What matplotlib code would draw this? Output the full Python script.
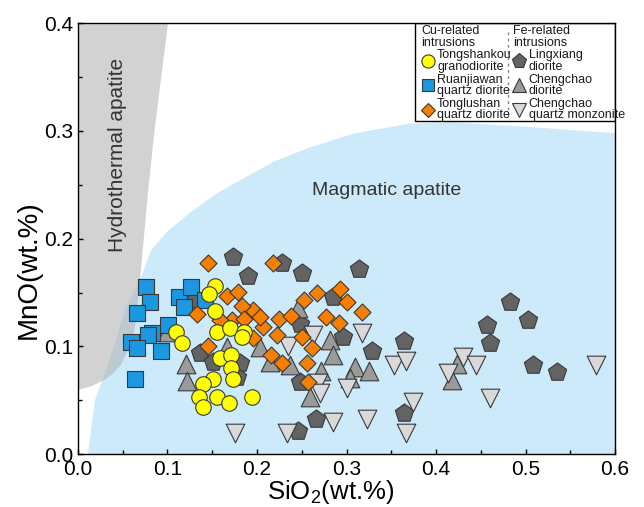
import matplotlib
matplotlib.use("Agg")
import matplotlib.pyplot as plt
from matplotlib.lines import Line2D
from matplotlib.patches import Polygon, Rectangle
from matplotlib.ticker import MultipleLocator, FormatStrFormatter

plt.rcParams['font.family'] = ['Liberation Sans', 'DejaVu Sans']
plt.rcParams['mathtext.default'] = 'regular'

# field outlines (SiO2, MnO)
hydro_x = [0, 0.1006, 0.093, 0.0855, 0.079, 0.0735, 0.068, 0.064, 0.061, 0.055, 0.048, 0.038, 0.030, 0.015, 0]
hydro_y = [0.4, 0.4, 0.35, 0.30, 0.25, 0.20, 0.15, 0.12, 0.108, 0.095, 0.083, 0.074, 0.069, 0.063, 0.0594]

magma_x = [0.011, 0.019, 0.030, 0.042, 0.0525, 0.0704, 0.0816, 0.100, 0.125, 0.155, 0.187, 0.22, 0.26, 0.31,
           0.372, 0.42, 0.5, 0.6, 0.6]
magma_y = [0.0, 0.050, 0.075, 0.105, 0.134, 0.164, 0.189, 0.207, 0.224, 0.242, 0.257, 0.272, 0.285, 0.298,
           0.307, 0.308, 0.304, 0.298, 0.0]

# Cu-related intrusions
tsk_x = [0.153, 0.1467, 0.153, 0.110, 0.1159, 0.1556, 0.1698, 0.1858, 0.1829, 0.1587, 0.1706, 0.1706,
         0.1735, 0.1505, 0.140, 0.1355, 0.155, 0.1687, 0.1393, 0.1948]
tsk_y = [0.156, 0.1486, 0.133, 0.113, 0.1033, 0.113, 0.1167, 0.113, 0.1089, 0.0889, 0.0919, 0.0796,
         0.0694, 0.0694, 0.065, 0.0526, 0.0526, 0.0476, 0.0434, 0.0532]

rjw_x = [0.0756, 0.0808, 0.0663, 0.1125, 0.1266, 0.1184, 0.1006, 0.0827, 0.0782, 0.0596, 0.0663, 0.0931,
         0.064, 0.142]
rjw_y = [0.1548, 0.1409, 0.1312, 0.1461, 0.1548, 0.1362, 0.1198, 0.1121, 0.1105, 0.1043, 0.0981, 0.0959,
         0.0694, 0.143]

tls_x = [0.2175, 0.2529, 0.2674, 0.2927, 0.3002, 0.3177, 0.2771, 0.292, 0.2249, 0.1959, 0.207, 0.222,
         0.1959, 0.2499, 0.2611, 0.2153, 0.2276, 0.2562, 0.2573, 0.1456, 0.1661, 0.179, 0.1326, 0.183,
         0.2034, 0.1717, 0.1587, 0.1456, 0.238, 0.186]
tls_y = [0.1776, 0.143, 0.1492, 0.1529, 0.1414, 0.1316, 0.1275, 0.1214, 0.1253, 0.1337, 0.1182, 0.1105,
         0.1074, 0.1089, 0.0981, 0.0919, 0.0842, 0.0848, 0.0671, 0.177, 0.1467, 0.1507, 0.130, 0.1374,
         0.1275, 0.1244, 0.1244, 0.1003, 0.128, 0.125]

# Fe-related intrusions
lx_x = [0.2283, 0.2506, 0.3143, 0.19, 0.2845, 0.248, 0.2957, 0.328, 0.3642, 0.4827, 0.5031, 0.4573,
        0.4603, 0.508, 0.5348, 0.248, 0.3642, 0.2659, 0.2462, 0.1728, 0.1307, 0.1363, 0.1512, 0.181, 0.1773]
lx_y = [0.177, 0.1683, 0.1715, 0.165, 0.1455, 0.1207, 0.1089, 0.0954, 0.1046, 0.1414, 0.1244, 0.1198,
        0.1028, 0.0826, 0.0764, 0.0671, 0.0383, 0.0322, 0.0216, 0.1832, 0.143, 0.0935, 0.0857, 0.0842, 0.0718]

ccd_x = [0.2455, 0.2816, 0.2845, 0.2034, 0.2369, 0.2145, 0.2715, 0.3095, 0.3255, 0.3039, 0.2592, 0.4231,
         0.4174, 0.1207, 0.1222, 0.1661, 0.0998]
ccd_y = [0.1353, 0.1058, 0.0919, 0.0996, 0.0826, 0.0857, 0.0774, 0.0811, 0.0774, 0.0703, 0.0526, 0.0836,
         0.0687, 0.0836, 0.0681, 0.0996, 0.1136]

ccq_x = [0.317, 0.235, 0.2622, 0.3534, 0.3661, 0.4138, 0.4305, 0.4447, 0.5784, 0.3002, 0.2685, 0.2704,
         0.3747, 0.4603, 0.2853, 0.3225, 0.3665, 0.2331, 0.1754]
ccq_y = [0.112, 0.1003, 0.1105, 0.0826, 0.0867, 0.0755, 0.0903, 0.0826, 0.0826, 0.061, 0.0656, 0.0563,
         0.0486, 0.0517, 0.030, 0.0322, 0.0198, 0.0198, 0.0191]

edge = '#383838'

fig = plt.figure(figsize=(6.44, 5.07), dpi=100)
ax = fig.add_axes([0.1211, 0.1045, 0.8339, 0.8495])

ax.add_patch(Polygon(list(zip(magma_x, magma_y)), closed=True, facecolor='#cdeafb', edgecolor='none', zorder=1))
ax.add_patch(Polygon(list(zip(hydro_x, hydro_y)), closed=True, facecolor='#b5b5b5', alpha=0.6,
                     edgecolor='none', zorder=1.2))

ax.text(0.044, 0.278, 'Hydrothermal apatite', rotation=90, ha='center', va='center',
        fontsize=15, color='#333333', zorder=1.5)
ax.text(0.262, 0.245, 'Magmatic apatite', ha='left', va='center', fontsize=14, color='#333333', zorder=1.5)

kw = dict(edgecolors=edge, linewidths=0.8)
ax.scatter(lx_x, lx_y, marker='p', s=190, c='#636363', zorder=2, **kw)
ax.scatter(ccd_x, ccd_y, marker='^', s=180, c='#9a9a9a', zorder=2.1, **kw)
ax.scatter(ccq_x, ccq_y, marker='v', s=180, c='#d9d9d9', zorder=2.2, **kw)
ax.scatter(rjw_x, rjw_y, marker='s', s=117, c='#1b98e0', zorder=2.3, **kw)
ax.scatter(tls_x, tls_y, marker='D', s=75, c='#f77f00', zorder=2.4, **kw)
ax.scatter(tsk_x, tsk_y, marker='o', s=125, c='#ffff00', zorder=2.5, **kw)

ax.set_xlim(0, 0.6)
ax.set_ylim(0, 0.4)
ax.xaxis.set_major_locator(MultipleLocator(0.1))
ax.xaxis.set_minor_locator(MultipleLocator(0.05))
ax.yaxis.set_major_locator(MultipleLocator(0.1))
ax.yaxis.set_minor_locator(MultipleLocator(0.05))
ax.xaxis.set_major_formatter(FormatStrFormatter('%.1f'))
ax.yaxis.set_major_formatter(FormatStrFormatter('%.1f'))
ax.tick_params(which='both', direction='in', top=False, right=False, labelsize=15, width=1)
ax.tick_params(which='major', length=3.6)
ax.tick_params(which='minor', length=2.8)
ax.tick_params(axis='x', pad=4)
for sp in ax.spines.values():
    sp.set_linewidth(1.0)
    sp.set_zorder(10)

ax.set_xlabel('SiO$_2$(wt.%)', fontsize=18.5)
ax.set_ylabel('MnO(wt.%)', fontsize=20)
ax.xaxis.set_label_coords(0.47, -0.056)
ax.yaxis.set_label_coords(-0.068, 0.427)

# legend
ax.add_patch(Rectangle((0.6276, 0.774), 1 - 0.6276, 0.226, transform=ax.transAxes,
                       facecolor='white', edgecolor='black', lw=1, zorder=8))
ax.plot([0.800, 0.800], [0.785, 0.99], transform=ax.transAxes, ls=(0, (2, 2.5)),
        color='#888888', lw=1, zorder=9)

h1 = [Line2D([], [], ls='none', marker='o', ms=9.5, mfc='#ffff00', mec=edge, mew=0.8),
      Line2D([], [], ls='none', marker='s', ms=8.5, mfc='#1b98e0', mec=edge, mew=0.8),
      Line2D([], [], ls='none', marker='D', ms=7.5, mfc='#f77f00', mec=edge, mew=0.8)]
l1 = ['Tongshankou\ngranodiorite', 'Ruanjiawan\nquartz diorite', 'Tonglushan\nquartz diorite']
h2 = [Line2D([], [], ls='none', marker='p', ms=11, mfc='#636363', mec=edge, mew=0.8),
      Line2D([], [], ls='none', marker='^', ms=10, mfc='#9a9a9a', mec=edge, mew=0.8),
      Line2D([], [], ls='none', marker='v', ms=10, mfc='#d9d9d9', mec=edge, mew=0.8)]
l2 = ['Lingxiang\ndiorite', 'Chengchao\ndiorite', 'Chengchao\nquartz monzonite']

legfont = dict(family=['Liberation Sans Narrow', 'Liberation Sans'], size=9)
legkw = dict(loc='upper left', frameon=False, prop=legfont, title_fontproperties=legfont, alignment='left',
             handlelength=1.0, handletextpad=0.25, labelspacing=0.05, borderpad=0.15, borderaxespad=0)
leg1 = ax.legend(h1, l1, title='Cu-related\nintrusions', bbox_to_anchor=(0.636, 1.0), **legkw)
leg2 = ax.legend(h2, l2, title='Fe-related\nintrusions', bbox_to_anchor=(0.807, 1.0), **legkw)
for lg in (leg1, leg2):
    lg.set_zorder(11)
    for t in lg.get_texts():
        t.set_linespacing(0.95)
        t.set_color('#1a1a1a')
    lg.get_title().set_linespacing(0.95)
    lg.get_title().set_color('#1a1a1a')
ax.add_artist(leg1)

fig.savefig('out.png', dpi=100)
